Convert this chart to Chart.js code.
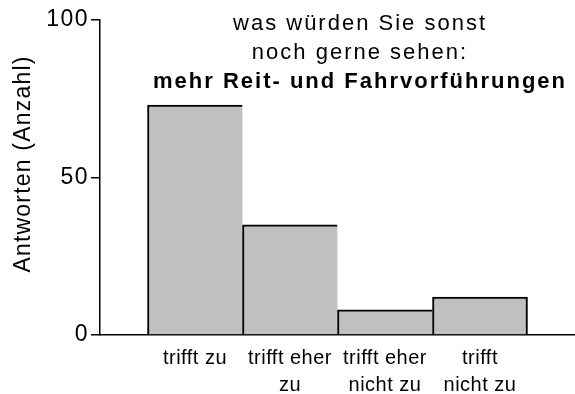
<!DOCTYPE html>
<html>
<head>
<meta charset="utf-8">
<script src="https://cdn.jsdelivr.net/npm/chart.js@4.4.0/dist/chart.umd.min.js"></script>
<style>
  html, body { margin: 0; padding: 0; background: #fff; }
  canvas { display: block; }
</style>
</head>
<body>
<canvas id="antworten" width="575" height="394"></canvas>
<script>
const categories = [["trifft zu"], ["trifft eher", "zu"], ["trifft eher", "nicht zu"], ["trifft", "nicht zu"]];
const antworten = [73, 35, 8, 12];
const yTicks = [0, 50, 100];
const titleLines = ["was würden Sie sonst", "noch gerne sehen:"];
const titleBold = "mehr Reit- und Fahrvorführungen";
const yTitle = "Antworten (Anzahl)";

const FONT = "'Liberation Sans', Arial, Helvetica, sans-serif";

// one empty slot on each side keeps the bars a bar-width away from the axes
const labels = [""].concat(categories, [""]);
const values = [null].concat(antworten, [null]);

const texte = {
    id: 'texte',
    beforeDraw(chart) {
        chart.ctx.letterSpacing = '1.5px';
    },
    afterDatasetsDraw(chart) {
        // x labels are drawn after the bars (ticks.z = 1)
        chart.ctx.letterSpacing = '0.5px';
    },
    afterDraw(chart) {
        const ctx = chart.ctx;
        ctx.save();
        ctx.fillStyle = '#000';
        ctx.letterSpacing = '2px';
        ctx.textAlign = 'center';
        ctx.textBaseline = 'alphabetic';
        ctx.font = `22px ${FONT}`;
        ctx.fillText(titleLines[0], 360, 30);
        ctx.fillText(titleLines[1], 360, 59);
        ctx.font = `bold 22px ${FONT}`;
        ctx.fillText(titleBold, 360, 88);

        ctx.letterSpacing = '1.2px';
        ctx.font = `23px ${FONT}`;
        ctx.translate(24, 164);
        ctx.rotate(-Math.PI / 2);
        ctx.textBaseline = 'middle';
        ctx.fillText(yTitle, 0, 0);
        ctx.restore();
    }
};

new Chart(document.getElementById('antworten'), {
    type: 'bar',
    data: {
        labels: labels,
        datasets: [{
            data: values,
            backgroundColor: '#c0c0c0',
            borderColor: '#000',
            borderWidth: c => ({top: 2, left: 2, bottom: 0, right: c.dataIndex === antworten.length ? 2 : 0}),
            borderSkipped: false,
            barPercentage: 1,
            categoryPercentage: 1
        }]
    },
    options: {
        responsive: false,
        animation: false,
        events: [],
        layout: {padding: {top: 20, left: 0, right: 0, bottom: 0}},
        plugins: {
            legend: {display: false},
            title: {display: false},
            tooltip: {enabled: false}
        },
        scales: {
            x: {
                type: 'category',
                offset: false,
                grid: {display: false, drawTicks: false},
                border: {display: true, color: '#000', width: 1.5},
                ticks: {
                    z: 1,
                    color: '#000',
                    autoSkip: false,
                    maxRotation: 0,
                    padding: 10,
                    font: {family: FONT, size: 20, lineHeight: 1.35}
                },
                afterFit(scale) {
                    scale.height = 59;
                    // axis line runs to the right edge of the canvas
                    scale.paddingLeft = 0;
                    scale.paddingRight = 0;
                }
            },
            y: {
                min: 0,
                max: 100,
                afterBuildTicks(scale) { scale.ticks = yTicks.map(v => ({value: v})); },
                grid: {drawOnChartArea: false, drawTicks: true, tickLength: 9, color: '#000', lineWidth: 1.5},
                border: {display: true, color: '#000', width: 1.5},
                ticks: {color: '#000', padding: 2, font: {family: FONT, size: 23}},
                afterFit(scale) { scale.width = 100; }
            }
        }
    },
    plugins: [texte]
});
</script>
</body>
</html>
